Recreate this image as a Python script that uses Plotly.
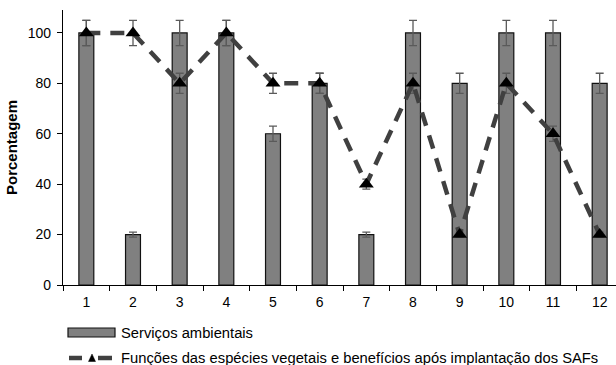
import plotly.graph_objects as go

categorias = ["1", "2", "3", "4", "5", "6", "7", "8", "9", "10", "11", "12"]
servicos = [100, 20, 100, 100, 60, 80, 20, 100, 80, 100, 100, 80]
servicos_erro = [5, 1, 5, 5, 3, 4, 1, 5, 4, 5, 5, 4]
funcoes = [100, 100, 80, 100, 80, 80, 40, 80, 20, 80, 60, 20]
funcoes_erro = [5, 5, 4, 5, 4, 4, 2, 4, 1, 4, 3, 1]

nome_barras = "Serviços ambientais"
nome_linha = "Funções das espécies vegetais e benefícios após implantação dos SAFs"

FONT = "Liberation Sans, Arial, sans-serif"
W, H = 616, 365
ML, MR, MT, MB = 63, 0, 10, 80
PW, PH = W - ML - MR, H - MT - MB


def px(xp):
    """page pixel x -> paper x"""
    return (xp - ML) / PW


def py(yp):
    """page pixel y -> paper y"""
    return (H - MB - yp) / PH


fig = go.Figure()

fig.add_trace(go.Bar(
    x=categorias, y=servicos,
    name=nome_barras, showlegend=False,
    width=0.32,
    marker=dict(color="#808080", line=dict(color="#111111", width=1.2)),
    error_y=dict(type="data", array=servicos_erro, color="#5a5a5a",
                 thickness=1.3, width=4),
))

fig.add_trace(go.Scatter(
    x=categorias, y=funcoes,
    name=nome_linha, showlegend=False,
    mode="lines+markers",
    line=dict(color="#404040", width=4.5, dash="14px,10px"),
    marker=dict(symbol="triangle-up", size=13, color="#000000"),
    error_y=dict(type="data", array=funcoes_erro, color="#5a5a5a",
                 thickness=1.3, width=4),
))

# legend drawn below the axis
shapes = [
    dict(type="rect", xref="paper", yref="paper",
         x0=px(68), x1=px(115), y0=py(337), y1=py(328),
         fillcolor="#808080", line=dict(color="#111111", width=1.2)),
    dict(type="line", xref="paper", yref="paper",
         x0=px(69), x1=px(82), y0=py(358), y1=py(358),
         line=dict(color="#404040", width=4.5)),
    dict(type="line", xref="paper", yref="paper",
         x0=px(98), x1=px(112), y0=py(358), y1=py(358),
         line=dict(color="#404040", width=4.5)),
    dict(type="path", xref="paper", yref="paper",
         path=f"M {px(88.5)} {py(361.5)} L {px(95.5)} {py(361.5)} L {px(92)} {py(354)} Z",
         fillcolor="#000000", line=dict(color="#000000", width=0.5)),
]

annotations = [
    dict(text=nome_barras, xref="paper", yref="paper", x=px(119), y=py(333),
         xanchor="left", yanchor="middle", showarrow=False,
         font=dict(family=FONT, size=14.75, color="#000000")),
    dict(text=nome_linha, xref="paper", yref="paper", x=px(119), y=py(358),
         xanchor="left", yanchor="middle", showarrow=False,
         font=dict(family=FONT, size=14.75, color="#000000")),
]

fig.update_layout(
    width=W, height=H,
    margin=dict(l=ML, r=MR, t=MT, b=MB),
    paper_bgcolor="white", plot_bgcolor="white",
    font=dict(family=FONT, size=14, color="#000000"),
    showlegend=False,
    shapes=shapes,
    annotations=annotations,
)

fig.update_xaxes(
    type="category", range=[-0.5, 11.35],
    showline=True, linecolor="#000000", linewidth=1.2,
    ticks="outside", tickson="boundaries", ticklen=5, tickcolor="#000000",
    showgrid=False, zeroline=False,
    tickfont=dict(family=FONT, size=14),
    ticklabelstandoff=4,
)

fig.update_yaxes(
    range=[0, 109.1], tickvals=[0, 20, 40, 60, 80, 100],
    showline=True, linecolor="#000000", linewidth=1.2,
    ticks="outside", ticklen=5, tickcolor="#000000",
    showgrid=False, zeroline=False,
    tickfont=dict(family=FONT, size=14),
    ticklabelstandoff=3,
    title=dict(text="<b>Porcentagem</b>", font=dict(family=FONT, size=15), standoff=6),
)

fig.write_html("out.html")
